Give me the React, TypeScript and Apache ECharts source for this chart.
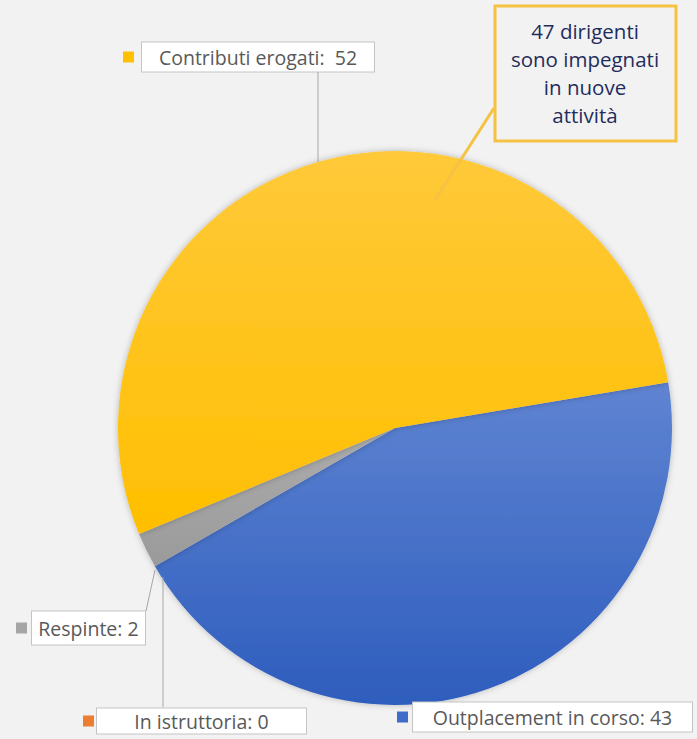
import React, { useEffect, useRef } from "react";
import * as echarts from "echarts";

const categories = ["Outplacement in corso", "In istruttoria", "Respinte", "Contributi erogati"];
const values = [43, 0, 2, 52];
const calloutLines = ["47 dirigenti", "sono impegnati", "in nuove", "attività"];

const colors = [
  ["#5f84d2", "#2e5dbd"],
  ["#f08a45", "#e9701f"],
  ["#adadad", "#9a9a9a"],
  ["#ffc93a", "#ffbf00"],
];
const markerColors = ["#3f6cc8", "#ed7d31", "#a5a5a5", "#ffc000"];
// label placement: [left, middleY, boxWidth, boxHeight, gap, separator]
const labelPlace: Record<number, [number, number, number, number, number, string]> = {
  0: [397, 717, 281, 31, 5, ": "],
  1: [83, 721, 211, 27, 3, ": "],
  2: [16, 628, 115, 35, 5, ": "],
  3: [123, 57, 234, 31, 8, ":  "],
};

export default function App() {
  const ref = useRef<HTMLDivElement>(null);
  useEffect(() => {
    const chart = echarts.init(ref.current!, null, { renderer: "svg" });
    const font = "'Open Sans', 'Noto Sans', sans-serif";
    const data = categories.map((name, i) => {
      const p = labelPlace[i];
      return {
        name,
        value: values[i],
        itemStyle: {
          color: new echarts.graphic.LinearGradient(0, 0, 0, 1, [
            { offset: 0, color: colors[i][0] },
            { offset: 1, color: colors[i][1] },
          ]),
        },
        label: {
          formatter: `{m|}{g|}{b|${name}${p[5]}${values[i]}}`,
          rich: {
            m: { width: 11, height: 11, backgroundColor: markerColors[i] },
            g: { width: p[4] },
            b: {
              width: p[2] - 2,
              height: p[3] - 2,
              align: "center",
              backgroundColor: "#ffffff",
              borderColor: "#c4c4c4",
              borderWidth: 1,
              color: "#595959",
              fontSize: 19.5,
              fontFamily: font,
              lineHeight: p[3] - 2,
            },
          },
        },
      };
    });
    const cx = 395, cy = 428;
    chart.setOption({
      animation: false,
      backgroundColor: "#f2f2f2",
      series: [
        {
          type: "pie",
          center: [cx, cy],
          radius: [0, 277],
          startAngle: 9.5,
          clockwise: true,
          minAngle: 0,
          avoidLabelOverlap: false,
          stillShowZeroSum: true,
          itemStyle: { borderWidth: 0, shadowBlur: 6, shadowColor: "rgba(0,0,0,0.25)" },
          label: { show: true, position: "outside" },
          labelLine: { show: false },
          labelLayout: (params: any) => {
            const p = labelPlace[params.dataIndex];
            return { x: p[0], y: p[1], align: "left", verticalAlign: "middle" };
          },
          emphasis: { disabled: true },
          data,
        },
      ],
      graphic: [
        { type: "line", shape: { x1: 318, y1: 72, x2: 318, y2: 162 }, style: { stroke: "#a6a6a6", lineWidth: 1 }, z: 10 },
        { type: "line", shape: { x1: 146, y1: 611, x2: 155, y2: 570 }, style: { stroke: "#a6a6a6", lineWidth: 1 }, z: 10 },
        { type: "line", shape: { x1: 163, y1: 707, x2: 163, y2: 577 }, style: { stroke: "#a6a6a6", lineWidth: 1 }, z: 10 },
        { type: "line", shape: { x1: 494, y1: 108, x2: 435, y2: 200 }, style: { stroke: "#f5c242", lineWidth: 3 }, z: 10 },
        { type: "rect", shape: { x: 495, y: 6, width: 181, height: 135 }, style: { fill: "#f2f2f2", stroke: "#f5c242", lineWidth: 3 }, z: 11 },
        {
          type: "text",
          x: 585,
          y: 73,
          z: 12,
          style: {
            text: calloutLines.join("\n"),
            align: "center",
            verticalAlign: "middle",
            fill: "#1f2d5c",
            font: `20.5px ${font}`,
            lineHeight: 28,
          },
        },
      ],
    });
    return () => chart.dispose();
  }, []);
  return <div ref={ref} style={{ position: "fixed", left: 0, top: 0, width: 697, height: 739 }} />;
}
